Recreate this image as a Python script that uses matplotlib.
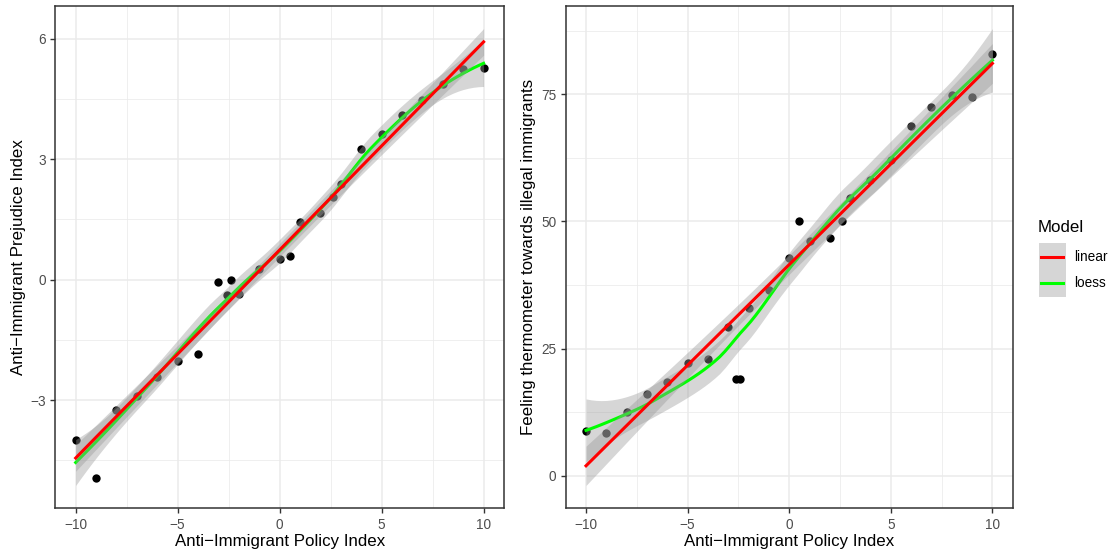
import numpy as np
import matplotlib
matplotlib.use('Agg')
import matplotlib.pyplot as plt
from matplotlib.patches import Rectangle
from math import lgamma

plt.rcParams['font.family'] = ['Liberation Sans', 'DejaVu Sans']

# data
policy = [-10, -9, -8, -7, -6, -5, -4, -3, -2.6, -2.4, -2, -1, 0, 0.5, 1,
          2, 2.6, 3, 4, 5, 6, 7, 8, 9, 10]
prejudice = [-4.0, -4.95, -3.24, -2.9, -2.42, -2.02, -1.86, -0.07, -0.39, 0.0,
             -0.37, 0.26, 0.52, 0.59, 1.44, 1.66, 2.05, 2.37, 3.25, 3.62,
             4.09, 4.47, 4.88, 5.24, 5.27]
thermometer = [8.8, 8.4, 12.5, 16.1, 18.5, 22.2, 23.0, 29.3, 19.0, 19.0,
               32.9, 36.5, 42.8, 50.0, 46.1, 46.7, 50.0, 54.6, 58.1, 62.1,
               68.7, 72.4, 74.9, 74.5, 82.9]

x_ticks = [-10, -5, 0, 5, 10]
prej_ticks = [-3, 0, 3, 6]
therm_ticks = [0, 25, 50, 75]
model_names = ['linear', 'loess']
model_colors = ['#FF0000', '#00FF00']


def t_quantile(p, df):
    # invert the Student t cdf numerically (no scipy)
    grid = np.linspace(0, 12, 24001)
    c = np.exp(lgamma((df + 1) / 2) - lgamma(df / 2)) / np.sqrt(df * np.pi)
    pdf = c * (1 + grid ** 2 / df) ** (-(df + 1) / 2)
    cdf = 0.5 + np.concatenate([[0], np.cumsum((pdf[1:] + pdf[:-1]) / 2 * np.diff(grid))])
    return np.interp(p, cdf, grid)


def linear_fit(x, y, xs):
    x = np.asarray(x, float)
    y = np.asarray(y, float)
    n = len(x)
    b, a = np.polyfit(x, y, 1)
    res = y - (a + b * x)
    s = np.sqrt(np.sum(res ** 2) / (n - 2))
    sxx = np.sum((x - x.mean()) ** 2)
    se = s * np.sqrt(1 / n + (xs - x.mean()) ** 2 / sxx)
    return a + b * xs, se, n - 2


def loess_fit(x, y, xs, span=0.75, cell=0.2):
    # local quadratic fit with tricube weights, evaluated at kd-tree vertices
    # and joined by cubic Hermite pieces (R's surface = "interpolate")
    x = np.asarray(x, float)
    y = np.asarray(y, float)
    n = len(x)
    q = int(np.floor(n * span))

    def local(x0):
        d = np.abs(x - x0)
        h = np.sort(d)[q - 1]
        u = np.clip(d / h, 0, 1)
        w = (1 - u ** 3) ** 3
        X = np.column_stack([np.ones(n), x - x0, (x - x0) ** 2])
        XtW = X.T * w
        B = np.linalg.solve(XtW @ X, XtW)
        return B[0], B[1]

    xsorted = np.sort(x)
    fc = int(np.floor(n * span * cell))
    verts = []

    def split(lo, hi):
        if hi - lo + 1 <= fc:
            return
        m = (lo + hi) // 2
        verts.append((xsorted[m] + xsorted[m + 1]) / 2)
        split(lo, m)
        split(m + 1, hi)

    split(0, n - 1)
    marg = 0.005 * (x.max() - x.min())
    verts = np.array(sorted(verts + [x.min() - marg, x.max() + marg]))
    vrows = [local(v) for v in verts]

    def row(x0):
        k = min(max(np.searchsorted(verts, x0) - 1, 0), len(verts) - 2)
        h = verts[k + 1] - verts[k]
        t = (x0 - verts[k]) / h
        h00 = 2 * t ** 3 - 3 * t ** 2 + 1
        h10 = t ** 3 - 2 * t ** 2 + t
        h01 = -2 * t ** 3 + 3 * t ** 2
        h11 = t ** 3 - t ** 2
        return (h00 * vrows[k][0] + h10 * h * vrows[k][1]
                + h01 * vrows[k + 1][0] + h11 * h * vrows[k + 1][1])

    L = np.array([row(v) for v in x])
    Ls = np.array([row(v) for v in xs])
    R = np.eye(n) - L
    M = R.T @ R
    d1 = np.trace(M)
    d2 = np.trace(M @ M)
    sigma = np.sqrt(np.sum((R @ y) ** 2) / d1)
    se = sigma * np.sqrt(np.sum(Ls ** 2, axis=1))
    return Ls @ y, se, d1 ** 2 / d2


def panel(ax, y, ylabel, yticks, ylab_x):
    xs = np.linspace(min(policy), max(policy), 80)
    ax.scatter(policy, y, s=36, color='black', linewidths=0, zorder=2)
    lo, hi = min(y), max(y)
    for fitter, col in [(loess_fit, model_colors[1]), (linear_fit, model_colors[0])]:
        fit, se, df = fitter(policy, y, xs)
        t = t_quantile(0.975, df)
        ax.fill_between(xs, fit - t * se, fit + t * se, color='#999999',
                        alpha=0.4, lw=0, zorder=3)
        ax.plot(xs, fit, color=col, lw=2.2, zorder=3)
        lo = min(lo, (fit - t * se).min())
        hi = max(hi, (fit + t * se).max())
    pad = (hi - lo) * 0.05

    ax.set_xticks(x_ticks)
    ax.set_yticks(yticks)
    step = yticks[1] - yticks[0]
    ax.set_xticks(np.arange(-12.5, 12.6, 5), minor=True)
    ax.set_yticks(np.arange(yticks[0] - step * 1.5, yticks[-1] + step, step), minor=True)
    ax.set_xlim(-11, 11)
    ax.set_ylim(lo - pad, hi + pad)
    ax.grid(which='major', color='#EBEBEB', lw=1.1, zorder=0)
    ax.grid(which='minor', color='#EBEBEB', lw=0.55, zorder=0)
    ax.set_axisbelow(True)
    ax.tick_params(which='major', length=3.8, width=1, color='#333333',
                   labelsize=9.8, labelcolor='#4D4D4D', pad=3)
    ax.tick_params(which='minor', length=0)
    for sp in ax.spines.values():
        sp.set_color('#333333')
        sp.set_linewidth(1.1)
    ax.set_xlabel('Anti\u2212Immigrant Policy Index', fontsize=12.2, va='center')
    ax.set_ylabel(ylabel, fontsize=12.2, va='center')
    ax.xaxis.set_label_coords(0.5, -0.0665)
    ax.yaxis.set_label_coords(ylab_x, 0.5)


fig = plt.figure(figsize=(11.15, 5.56), dpi=100)
W, H = 1115, 556
ax1 = fig.add_axes([55.3 / W, (H - 508.3) / H, (504 - 55.3) / W, (508.3 - 5.7) / H])
ax2 = fig.add_axes([565.7 / W, (H - 508.3) / H, (1012.7 - 565.7) / W, (508.3 - 5.7) / H])

panel(ax1, prejudice, 'Anti\u2212Immigrant Prejudice Index', prej_ticks, -0.082)
panel(ax2, thermometer, 'Feeling thermometer towards illegal immigrants', therm_ticks, -0.0843)

# legend drawn by hand (grey ribbon behind each key)
lg = fig.add_axes([1030 / W, 0, 85 / W, 1])
lg.set_xlim(1030, 1115)
lg.set_ylim(H, 0)
lg.axis('off')
lg.text(1038, 227, 'Model', fontsize=12.2, va='center', ha='left')
for i, (name, col) in enumerate(zip(model_names, model_colors)):
    yc = 256.7 + i * 26.5
    lg.add_patch(Rectangle((1039, yc - 13.5), 26.5, 27, color='#999999', alpha=0.4, lw=0))
    lg.plot([1041, 1063], [yc, yc], color=col, lw=2.2)
    lg.text(1074, yc, name, fontsize=9.8, va='center', ha='left')

fig.savefig('out.png', dpi=100)
